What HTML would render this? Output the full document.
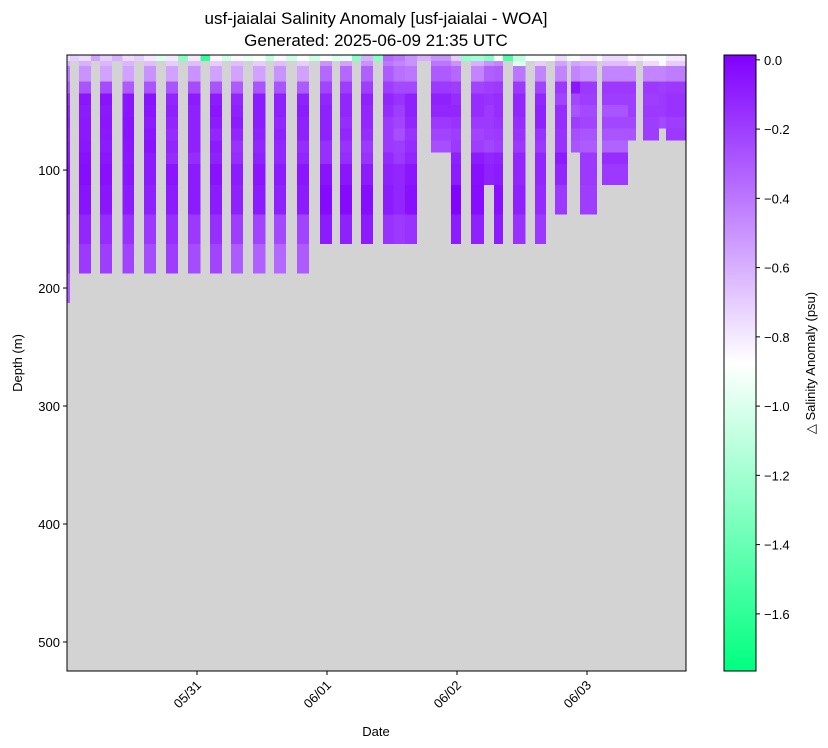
<!DOCTYPE html>
<html><head><meta charset="utf-8"><style>
html,body{margin:0;padding:0;background:#fff;}
svg{display:block;font-family:"Liberation Sans","DejaVu Sans",sans-serif;}
</style></head><body>
<svg id="chart" width="828" height="748" viewBox="0 0 828 748" xmlns="http://www.w3.org/2000/svg">
<defs>
<linearGradient id="cbgrad" x1="0" y1="1" x2="0" y2="0">
<stop offset="0" stop-color="#00ff80"/><stop offset="0.5" stop-color="#ffffff"/><stop offset="1" stop-color="#8000ff"/>
</linearGradient>
</defs>
<text x="376" y="24" font-size="17" text-anchor="middle">usf-jaialai Salinity Anomaly [usf-jaialai - WOA]</text>
<text x="376" y="46" font-size="17" text-anchor="middle">Generated: 2025-06-09 21:35 UTC</text>
<rect x="67" y="55" width="619" height="616" fill="#d3d3d3"/>
<g id="cells"></g>
<rect x="67" y="55" width="619" height="616" fill="none" stroke="#000" stroke-width="1"/>
<g id="yaxis"></g>
<g id="xaxis"></g>
<text transform="translate(22,363) rotate(-90)" font-size="13" text-anchor="middle">Depth (m)</text>
<text x="376" y="736" font-size="13" text-anchor="middle">Date</text>
<rect x="724" y="55" width="32" height="616" fill="url(#cbgrad)" stroke="#000" stroke-width="1"/>
<g id="cbaxis"></g>
<text transform="translate(815,363) rotate(-90)" font-size="13" text-anchor="middle">△ Salinity Anomaly (psu)</text>
</svg>
<script>
// depth bin edges (m)
const depthEdges = [2.5,7.5,12,25,35,45,55,65,75,85,95,112.5,137.5,162.5,187.5,212.5];
// profile time spans (hours since 05/30 00:00)
const profStart = [0,2.2,6.1,10.2,14.2,18.3,22.3,26.4,30.3,34.3,38.2,42.5,46.7,50.4,54.3,58.3,60.3,62.4,67.2,70.9,74.6,77.0,78.8,82.3,86.4,90.1,93.0,94.7,98.8,103.6,106.3,109.3,110.6];
const profEnd   = [0.55,4.4,8.3,12.4,16.4,20.5,24.6,28.6,32.5,36.6,40.4,44.7,48.9,52.6,56.5,60.3,62.4,64.6,70.9,72.7,77.0,78.8,80.5,84.6,88.4,92.3,94.7,97.8,103.6,105.0,109.3,110.6,114.3];
// salinity anomaly values per profile (top -> bottom)
const profValues = [
[-0.75,-0.6,-0.4,-0.3,-0.15,-0.12,-0.1,-0.12,-0.1,-0.08,-0.06,-0.06,-0.15,-0.2,-0.3],
[-0.75,-0.6,-0.5,-0.28,-0.06,-0.08,-0.07,-0.07,-0.06,-0.04,-0.03,-0.05,-0.12,-0.18],
[-0.7,-0.62,-0.55,-0.25,-0.05,-0.07,-0.06,-0.07,-0.08,-0.06,-0.04,-0.06,-0.14,-0.2],
[-0.75,-0.62,-0.55,-0.3,-0.06,-0.06,-0.05,-0.05,-0.06,-0.07,-0.06,-0.08,-0.16,-0.22],
[-0.8,-0.65,-0.5,-0.28,-0.05,-0.06,-0.08,-0.06,-0.05,-0.08,-0.08,-0.1,-0.18,-0.25],
[-0.8,-0.7,-0.55,-0.28,-0.12,-0.1,-0.12,-0.14,-0.12,-0.14,-0.06,-0.08,-0.15,-0.2],
[-0.8,-0.65,-0.5,-0.25,-0.08,-0.1,-0.1,-0.1,-0.1,-0.14,-0.08,-0.08,-0.18,-0.25],
[-0.85,-0.7,-0.55,-0.28,-0.08,-0.06,-0.08,-0.12,-0.08,-0.1,-0.05,-0.08,-0.15,-0.22],
[-0.85,-0.65,-0.55,-0.3,-0.12,-0.1,-0.08,-0.12,-0.16,-0.14,-0.08,-0.1,-0.2,-0.3],
[-0.9,-0.7,-0.55,-0.28,-0.08,-0.08,-0.08,-0.1,-0.12,-0.1,-0.06,-0.08,-0.22,-0.32],
[-0.85,-0.65,-0.5,-0.28,-0.1,-0.1,-0.12,-0.1,-0.12,-0.12,-0.08,-0.1,-0.24,-0.35],
[-0.9,-0.7,-0.55,-0.3,-0.1,-0.08,-0.1,-0.1,-0.14,-0.12,-0.06,-0.08,-0.22,-0.3],
[-0.9,-0.5,-0.35,-0.22,-0.12,-0.1,-0.1,-0.1,-0.15,-0.15,-0.05,-0.02,-0.08],
[-0.95,-0.55,-0.35,-0.2,-0.12,-0.12,-0.14,-0.12,-0.16,-0.14,-0.06,-0.02,-0.1],
[-0.6,-0.5,-0.32,-0.2,-0.1,-0.12,-0.12,-0.14,-0.18,-0.16,-0.08,-0.03,-0.08],
[-0.35,-0.4,-0.3,-0.2,-0.12,-0.14,-0.18,-0.18,-0.18,-0.13,-0.1,-0.08,-0.16],
[-0.4,-0.45,-0.38,-0.24,-0.16,-0.2,-0.22,-0.26,-0.2,-0.18,-0.12,-0.12,-0.18],
[-0.5,-0.5,-0.4,-0.24,-0.1,-0.1,-0.12,-0.16,-0.14,-0.12,-0.06,-0.04,-0.16],
[-0.5,-0.4,-0.3,-0.18,-0.1,-0.12,-0.18,-0.22,-0.26],
[-0.7,-0.5,-0.35,-0.2,-0.14,-0.12,-0.16,-0.2,-0.18,-0.1,-0.08,-0.0,-0.08],
[-1.2,-0.6,-0.45,-0.22,-0.14,-0.14,-0.18,-0.22,-0.2,-0.08,-0.04,-0.03,-0.1],
[-1.3,-0.5,-0.32,-0.2,-0.16,-0.18,-0.18,-0.2,-0.23,-0.12,-0.1],
[-0.9,-0.45,-0.3,-0.18,-0.14,-0.14,-0.16,-0.18,-0.2,-0.1,-0.08,-0.04,-0.08],
[-1.1,-1.0,-0.4,-0.18,-0.12,-0.12,-0.14,-0.16,-0.18,-0.12,-0.12,-0.1,-0.16],
[-0.9,-0.7,-0.45,-0.22,-0.12,-0.1,-0.1,-0.16,-0.18,-0.12,-0.12,-0.13,-0.18],
[-0.75,-0.55,-0.45,-0.18,-0.22,-0.14,-0.14,-0.16,-0.16,-0.08,-0.12,-0.18],
[-0.9,-0.55,-0.45,-0.06,-0.23,-0.28,-0.2,-0.26,-0.28],
[-0.8,-0.6,-0.5,-0.18,-0.2,-0.24,-0.22,-0.28,-0.3,-0.18,-0.18,-0.2],
[-0.75,-0.65,-0.45,-0.18,-0.2,-0.28,-0.23,-0.28,-0.33,-0.14,-0.18],
[-0.85,-0.7,-0.45,-0.18,-0.2,-0.2,-0.23,-0.28],
[-0.85,-0.75,-0.45,-0.18,-0.2,-0.18,-0.2,-0.2],
[-0.9,-0.85,-0.45,-0.2,-0.18,-0.18,-0.24],
[-0.8,-0.7,-0.42,-0.18,-0.16,-0.16,-0.2,-0.18]
];
// near-surface values in gaps between profiles (top row)
const gapStart = [0.55,4.4,8.3,12.4,16.4,20.5,24.6,28.6,32.5,36.6,40.4,44.7,48.9,52.6,56.5,64.6,72.7,80.5,84.6,88.4,92.3,97.8,105.0];
const gapEnd   = [2.2,6.1,10.2,14.2,18.3,22.3,26.4,30.3,34.3,38.2,42.5,46.7,50.4,54.3,58.3,67.2,74.6,82.3,86.4,90.1,93.0,98.8,106.3];
const gapTop   = [-0.7,-0.55,-0.6,-0.7,-1.0,-1.3,-1.6,-1.05,-0.95,-1.1,-1.05,-1.05,-1.0,-1.3,-1.3,-0.6,-1.25,-1.5,-0.9,-0.9,-0.95,-0.9,-0.8];

const X0=67, X1=686, Y0=55, Y1=671;
const xMax = (686-67)/130*24;
const dTop = 2.5, dBot = 524.6;
function xs(h){ return X0 + (h/xMax)*(X1-X0); }
function ys(d){ return Y0 + (d-dTop)/(dBot-dTop)*(Y1-Y0); }
const vmin=-1.765, vmax=0.014;
function color(v){
  let t=(v-vmin)/(vmax-vmin); t=Math.max(0,Math.min(1,t));
  let r,g,b;
  if(t>=0.5){ const s=(t-0.5)/0.5; r=255-127*s; g=255*(1-s); b=255; }
  else { const s=t/0.5; r=255*s; g=255; b=128+127*s; }
  return `rgb(${Math.round(r)},${Math.round(g)},${Math.round(b)})`;
}
const NS='http://www.w3.org/2000/svg';
const cells=document.getElementById('cells');
function rect(x,y,w,h,fill,name){
  const r=document.createElementNS(NS,'rect');
  r.setAttribute('x',x);r.setAttribute('y',y);r.setAttribute('width',w);r.setAttribute('height',h);
  r.setAttribute('fill',fill);r.setAttribute('shape-rendering','crispEdges');
  
  
  cells.appendChild(r);
}
profValues.forEach((vals,i)=>{
  const xa=xs(profStart[i]), xb=xs(profEnd[i]);
  vals.forEach((v,j)=>{
    const ya=ys(depthEdges[j]), yb=ys(depthEdges[j+1]);
    rect(xa,ya,xb-xa,yb-ya,color(v),'cell-profile-'+i+'-row-'+j);
  });
});
gapTop.forEach((v,i)=>{
  const xa=xs(gapStart[i]), xb=xs(gapEnd[i]);
  rect(xa,ys(depthEdges[0]),xb-xa,ys(depthEdges[1])-ys(depthEdges[0]),color(v),'cell-gap-surface-'+i);
});

function line(g,x1,y1,x2,y2,name){
  const l=document.createElementNS(NS,'line');
  l.setAttribute('x1',x1);l.setAttribute('y1',y1);l.setAttribute('x2',x2);l.setAttribute('y2',y2);
  l.setAttribute('stroke','#000');l.setAttribute('stroke-width','1');
  
  
  g.appendChild(l);
}
function text(g,x,y,s,anchor,name,tr){
  const t=document.createElementNS(NS,'text');
  t.setAttribute('x',x);t.setAttribute('y',y);t.setAttribute('font-size','13');
  t.setAttribute('text-anchor',anchor);
  if(tr) t.setAttribute('transform',tr);
  t.textContent=s;
  
  
  g.appendChild(t);
}
const yTicks=[100,200,300,400,500];
const ya=document.getElementById('yaxis');
yTicks.forEach(d=>{ const y=ys(d); line(ya,X0-4,y,X0,y,'y-tick-'+d); text(ya,X0-7,y+5,String(d),'end','y-tick-label-'+d); });
const xTickHours=[24,48,72,96];
const xTickLabels=['05/31','06/01','06/02','06/03'];
const xa=document.getElementById('xaxis');
xTickHours.forEach((h,i)=>{ const x=xs(h); line(xa,x,Y1,x,Y1+4,'x-tick-'+i);
  text(xa,x+5,Y1+15,xTickLabels[i],'end','x-tick-label-'+i,`rotate(-45 ${x+5} ${Y1+15})`); });
const cbTicks=[0.0,-0.2,-0.4,-0.6,-0.8,-1.0,-1.2,-1.4,-1.6];
const cb=document.getElementById('cbaxis');
cbTicks.forEach(v=>{ const y=55+(vmax-v)/(vmax-vmin)*616; line(cb,756,y,760,y,'colorbar-tick');
  text(cb,764,y+5,(v===0?'0.0':'\u2212'+Math.abs(v).toFixed(1)),'start','colorbar-tick-label'); });
</script>
</body></html>
